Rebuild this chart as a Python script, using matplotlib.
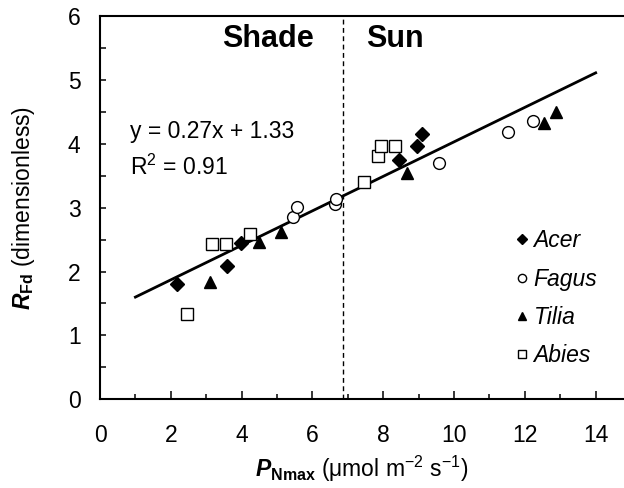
import matplotlib
matplotlib.use("Agg")
import matplotlib.pyplot as plt
import numpy as np
from matplotlib.ticker import MultipleLocator

plt.rcParams['font.family'] = ['Liberation Sans', 'DejaVu Sans']
plt.rcParams['mathtext.fontset'] = 'custom'
plt.rcParams['mathtext.rm'] = 'Liberation Sans'
plt.rcParams['mathtext.it'] = 'Liberation Sans:italic'
plt.rcParams['mathtext.bf'] = 'Liberation Sans:bold'
plt.rcParams['mathtext.bfit'] = 'Liberation Sans:bold:italic'

# ---- data ----
acer_x = [2.18, 3.58, 3.98, 8.45, 8.94, 9.10]
acer_y = [1.81, 2.08, 2.44, 3.75, 3.96, 4.16]

fagus_x = [5.46, 5.57, 6.64, 6.66, 9.57, 11.51, 12.24]
fagus_y = [2.86, 3.01, 3.05, 3.13, 3.70, 4.18, 4.36]

tilia_x = [3.10, 4.50, 5.10, 8.68, 12.54, 12.88]
tilia_y = [1.84, 2.46, 2.62, 3.55, 4.33, 4.50]

abies_x = [2.46, 3.16, 3.56, 4.23, 7.47, 7.84, 7.93, 8.32]
abies_y = [1.34, 2.43, 2.43, 2.58, 3.40, 3.81, 3.96, 3.96]

slope, intercept = 0.27, 1.33
fit_range = [1, 14]
divider_x = 6.86

xticks = [0, 2, 4, 6, 8, 10, 12, 14]
yticks = [0, 1, 2, 3, 4, 5, 6]

fig = plt.figure(figsize=(6.24, 4.88), dpi=100)
ax = fig.add_axes([100/624, 88.7/488, 1 - 100/624, 383.3/488])

fx = np.array(fit_range)
ax.plot(fx, slope * fx + intercept, color='black', lw=2.0, zorder=2)
ax.plot([divider_x, divider_x], [0, 6], color='black', lw=1.0,
        linestyle=(0, (3.5, 2.5)), zorder=1)

ms = 8.5
ax.plot(acer_x, acer_y, linestyle='none', marker='D', ms=7.5, mfc='black',
        mec='black', mew=1, zorder=3, label='Acer')
ax.plot(fagus_x, fagus_y, linestyle='none', marker='o', ms=ms, mfc='white',
        mec='black', mew=1, zorder=3, label='Fagus')
ax.plot(tilia_x, tilia_y, linestyle='none', marker='^', ms=ms + 0.5, mfc='black',
        mec='black', mew=1, zorder=3, label='Tilia')
ax.plot(abies_x, abies_y, linestyle='none', marker='s', ms=ms - 0.5, mfc='white',
        mec='black', mew=1, zorder=3, label='Abies')

ax.set_xlim(0, 14.8)
ax.set_ylim(0, 6)
ax.set_xticks(xticks)
ax.set_yticks(yticks)
ax.xaxis.set_minor_locator(MultipleLocator(1))
ax.yaxis.set_minor_locator(MultipleLocator(0.5))

ax.tick_params(axis='x', which='major', direction='in', length=6, width=1.1,
               labelsize=16.5, pad=18)
ax.tick_params(axis='x', which='minor', direction='in', length=3.5, width=1.1)
ax.tick_params(axis='y', which='both', direction='in', length=4.5, width=1.1,
               labelsize=16.5, pad=14)
ax.tick_params(top=False, right=False, which='both')

for s in ['left', 'bottom', 'top']:
    ax.spines[s].set_linewidth(1.5)
ax.spines['right'].set_visible(False)

ax.text(4.75, 5.51, 'Shade', fontsize=22, fontweight='bold', ha='center', va='baseline')
ax.text(8.33, 5.51, 'Sun', fontsize=22, fontweight='bold', ha='center', va='baseline')

ax.text(0.85, (399.3 - 138) / 63.9, 'y = 0.27x + 1.33', fontsize=16.5, ha='left', va='baseline')
ax.text(0.85, (399.3 - 175) / 63.9, r'R$^2$ = 0.91', fontsize=16.5, ha='left', va='baseline')

leg = ax.legend(loc='upper left', bbox_to_anchor=(0.775, 0.473), frameon=False,
                markerscale=0.7, handlelength=0.4, handletextpad=0.3,
                labelspacing=0.66, borderpad=0,
                prop={'style': 'italic', 'size': 16.5})

ax.set_xlabel(r'$\mathbfit{P}_{\mathbf{Nmax}}$ (μmol m$^{-2}$ s$^{-1}$)', fontsize=16.5, labelpad=5)
ax.set_ylabel(r'$\mathbfit{R}_{\mathbf{Fd}}$ (dimensionless)', fontsize=16.5, labelpad=22)

fig.savefig('out.png', dpi=100)
